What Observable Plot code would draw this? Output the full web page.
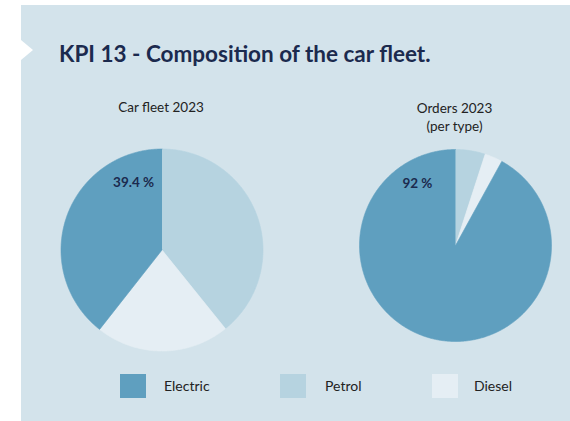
<!DOCTYPE html>
<html><head><meta charset="utf-8">
<script src="https://cdn.jsdelivr.net/npm/d3@7"></script>
<script src="https://cdn.jsdelivr.net/npm/@observablehq/plot@0.6"></script>
<style>
body{margin:0;background:#fff;width:570px;height:421px;overflow:hidden;font-family:Lato,"Open Sans",sans-serif;}
#panel{position:absolute;left:21px;top:5px;width:549px;height:416px;background:#d3e3eb;}
#notch{position:absolute;left:0;top:35px;width:0;height:0;border-top:10.5px solid transparent;border-bottom:10.5px solid transparent;border-left:12px solid #fff;}
#title{position:absolute;left:38px;top:36.5px;font-size:22.5px;line-height:23px;font-weight:700;color:#1b2a4e;white-space:nowrap;}
#chart{position:absolute;left:0;top:85px;}
.sw{position:absolute;top:369px;width:26px;height:24px;}
.lt{position:absolute;top:373.5px;font-size:14px;line-height:14px;color:#222;}
</style></head>
<body>
<div id="panel">
  <div id="notch"></div>
  <div id="title">KPI 13 - Composition of the car fleet.</div>
  <div id="chart"></div>
  <div id="legend"></div>
</div>
<script>
// ---- data ----
const categories = ["Electric", "Petrol", "Diesel"];
const colors = ["#5f9fbf", "#b6d3e0", "#e5eef4"];
const fleet2023 = [39.4, 39.2, 21.4];   // Electric, Petrol, Diesel (%)
const orders2023 = [92, 5, 3];          // Electric, Petrol, Diesel (%)
const pieTitles = ["Car fleet 2023", "Orders 2023\n(per type)"];
const pieLabels = ["39.4 %", "92 %"];
const drawOrder = ["Petrol", "Diesel", "Electric"]; // clockwise from 12 o'clock

// ---- layout ----
const W = 549, H = 270;
const pieLayout = [
  {cx: 140.5, cy: 159.5, r: 101, titleY: 21.7, labelAngle: 337, labelR: 0.72},
  {cx: 434, cy: 155, r: 96, titleY: 40.5, labelAngle: 328.5, labelR: 0.76}
];
const legendX = [{sw: 99, tx: 143}, {sw: 259, tx: 304}, {sw: 411, tx: 453}];

const pieValues = [fleet2023, orders2023];
const rows = [];
pieValues.forEach((vals, i) => {
  const p = pieLayout[i];
  const arr = drawOrder.map(c => ({cat: c, value: vals[categories.indexOf(c)]}));
  const arcs = d3.pie().sort(null).value(d => d.value)(arr);
  arcs.forEach(a => {
    const key = i + "-" + a.data.cat;
    rows.push({key, cat: a.data.cat, x: p.cx, y: p.cy});
    const n = Math.max(2, Math.ceil((a.endAngle - a.startAngle) / (Math.PI / 360)));
    for (let k = 0; k <= n; k++) {
      const t = a.startAngle + (a.endAngle - a.startAngle) * k / n;
      rows.push({key, cat: a.data.cat, x: p.cx + p.r * Math.sin(t), y: p.cy - p.r * Math.cos(t)});
    }
  });
});
const titleRows = pieTitles.map((t, i) => ({text: t, x: pieLayout[i].cx - 1, y: pieLayout[i].titleY}));
const labelRows = pieLabels.map((t, i) => {
  const p = pieLayout[i], a = p.labelAngle * Math.PI / 180;
  return {text: t, x: p.cx + p.labelR * p.r * Math.sin(a), y: p.cy - p.labelR * p.r * Math.cos(a)};
});

const chart = Plot.plot({
  width: W, height: H, margin: 0,
  style: {background: "transparent", fontFamily: "Lato, 'Open Sans', sans-serif", overflow: "visible"},
  x: {domain: [0, W], range: [0, W], axis: null},
  y: {domain: [0, H], range: [0, H], axis: null},
  color: {domain: categories, range: colors},
  marks: [
    Plot.line(rows, {x: "x", y: "y", z: "key", fill: "cat", stroke: "cat", strokeWidth: 0.6, curve: "linear"}),
    Plot.text(titleRows, {x: "x", y: "y", text: "text", lineAnchor: "bottom", lineHeight: 1.35, fontSize: 13.5, fill: "#222"}),
    Plot.text(labelRows, {x: "x", y: "y", text: "text", fontSize: 13.5, fontWeight: 700, fill: "#1b2a4e"})
  ]
});
document.getElementById("chart").append(chart);

const legend = document.getElementById("legend");
categories.forEach((c, i) => {
  const s = document.createElement("div");
  s.className = "sw"; s.style.left = legendX[i].sw + "px"; s.style.background = colors[i];
  const t = document.createElement("div");
  t.className = "lt"; t.style.left = legendX[i].tx + "px"; t.textContent = c;
  legend.append(s, t);
});
</script>
</body></html>
